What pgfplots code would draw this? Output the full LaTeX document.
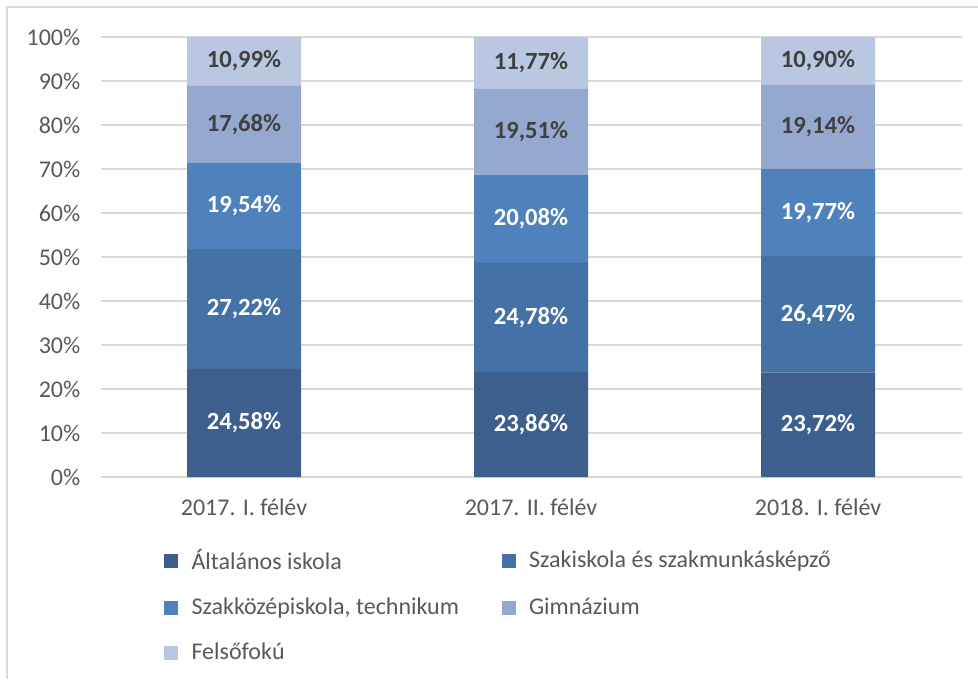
\documentclass[border=0pt]{standalone}
\usepackage{fontspec}
\setmainfont{Carlito}
\usepackage{pgfplots}
\pgfplotsset{compat=1.18}
\definecolor{c1}{HTML}{3C5F8E}
\definecolor{c2}{HTML}{4472A7}
\definecolor{c3}{HTML}{4F81BD}
\definecolor{c4}{HTML}{95A9D0}
\definecolor{c5}{HTML}{BAC7E1}
\definecolor{gridc}{HTML}{D9D9D9}
\definecolor{txt}{HTML}{595959}
\definecolor{dark}{HTML}{404040}
\pgfplotsset{
  common/.style={
    at={(75.375pt,-357.75pt)}, anchor=south west,
    scale only axis, width=645.75pt, height=330pt,
    xmin=-0.5, xmax=2.5, ymin=0, ymax=100,
    /pgf/number format/assume math mode=true,
  }
}
\begin{document}
\fontsize{18}{21.6}\selectfont
\begin{tikzpicture}
\path[use as bounding box] (0,0) rectangle (733.5pt,-509.25pt);
\draw[gridc, line width=1.5pt] (5.25pt,-509.25pt) -- (5.25pt,-5.25pt) -- (733.5pt,-5.25pt);
\begin{axis}[common,
  ybar stacked, bar width=85.5pt,
  xtick={0,1,2},
  xticklabels={2017. I. félév, 2017. II. félév, 2018. I. félév},
  ytick={0,10,...,100},
  yticklabels={0\%,10\%,20\%,30\%,40\%,50\%,60\%,70\%,80\%,90\%,100\%},
  ymajorgrids, grid style={gridc, line width=1.1pt},
  axis line style={draw=none},
  major tick length=0pt,
  tick label style={color=txt, font=\fontsize{18}{21.6}\selectfont},
  yticklabel style={xshift=-9pt},
  xticklabel style={yshift=-10pt},
  legend columns=2,
  legend cell align=left,
  legend style={at={(axis description cs:0.0690,-0.1523)}, anchor=north west,
    draw=none, fill=none, font=\fontsize{18}{21.6}\selectfont, text=txt,
    row sep=14.5pt,
    /tikz/every odd column/.append style={column sep=8pt},
    /tikz/every even column/.append style={column sep=30pt}},
  legend image code/.code={\fill[#1] (0pt,-5.25pt) rectangle (10.5pt,5.25pt);},
]
\addplot[fill=c1, draw=none] coordinates {(0,24.58) (1,23.86) (2,23.72)};
\addplot[fill=c2, draw=none] coordinates {(0,27.22) (1,24.78) (2,26.47)};
\addplot[fill=c3, draw=none] coordinates {(0,19.54) (1,20.08) (2,19.77)};
\addplot[fill=c4, draw=none] coordinates {(0,17.68) (1,19.51) (2,19.14)};
\addplot[fill=c5, draw=none] coordinates {(0,10.99) (1,11.77) (2,10.90)};
\legend{Általános iskola, Szakiskola és szakmunkásképző, {Szakközépiskola, technikum}, Gimnázium, Felsőfokú}
\end{axis}
\begin{axis}[common, hide axis,
  nodes near coords={\pgfmathprintnumber[fixed,fixed zerofill,precision=2,use comma]{\pgfplotspointmeta}\%},
  point meta=explicit,
  every node near coord/.append style={anchor=center, font=\fontsize{18.5}{22}\selectfont\bfseries},
]
\addplot[draw=none, mark=none, nodes near coords style={color=white}] table[meta=v] {
x y v
0 12.29 24.58
1 11.93 23.86
2 11.86 23.72
0 38.19 27.22
1 36.25 24.78
2 36.955 26.47
0 61.57 19.54
1 58.68 20.08
2 60.075 19.77
};
\addplot[draw=none, mark=none, nodes near coords style={color=dark}] table[meta=v] {
x y v
0 80.18 17.68
1 78.475 19.51
2 79.53 19.14
0 94.515 10.99
1 94.115 11.77
2 94.55 10.90
};
\end{axis}
\end{tikzpicture}
\end{document}
